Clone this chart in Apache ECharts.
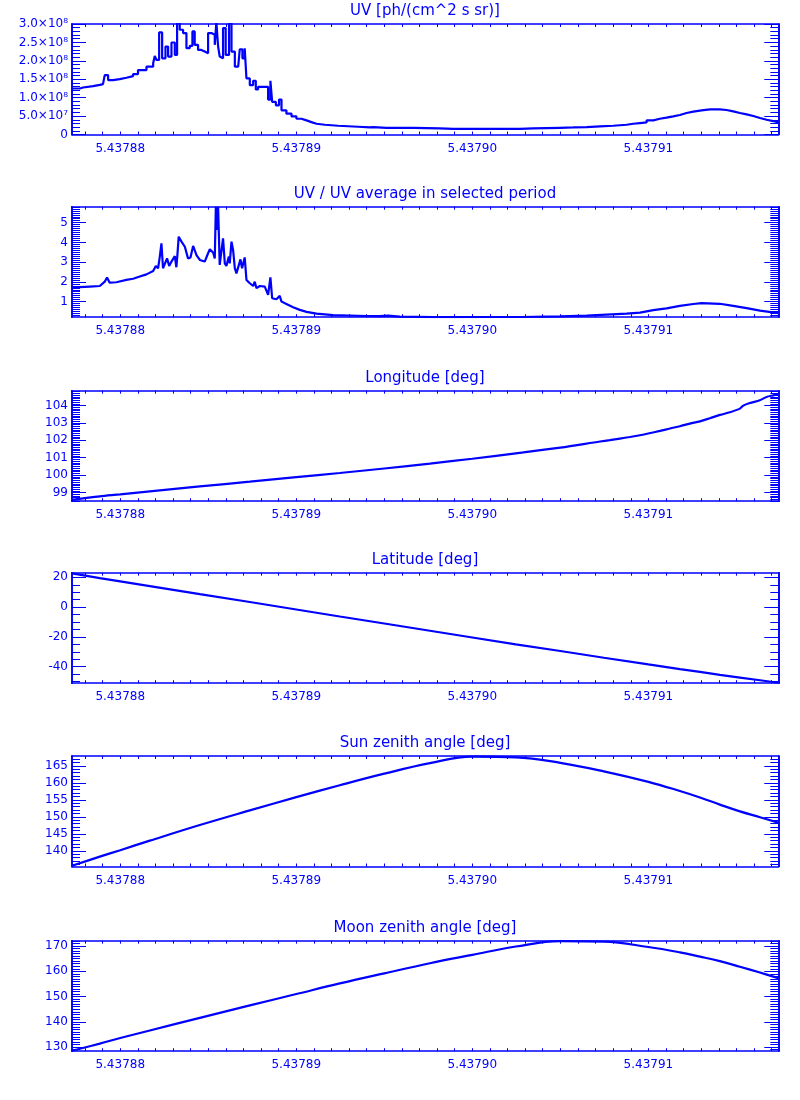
<!DOCTYPE html>
<html><head><meta charset="utf-8">
<script src="https://cdn.jsdelivr.net/npm/echarts@6/dist/echarts.min.js"></script>
<style>html,body{margin:0;padding:0;background:#fff}#c{width:800px;height:1100px}</style>
</head><body><div id="c"></div>
<script>
// ---------- data ----------
const uvTime = [5.43787726,5.43787770,5.43787789,5.43787846,5.43787884,5.43787902,5.43787912,5.43787931,5.43787959,5.43787997,
5.43788035,5.43788073,5.43788101,5.43788149,5.43788187,5.43788196,5.43788206,5.43788221,5.43788238,5.43788257,
5.43788272,5.43788291,5.43788310,5.43788323,5.43788338,5.43788357,5.43788376,5.43788395,5.43788410,5.43788423,
5.43788442,5.43788461,5.43788480,5.43788499,5.43788518,5.43788537,5.43788546,5.43788556,5.43788565,5.43788575,
5.43788584,5.43788599,5.43788618,5.43788632,5.43788651,5.43788670,5.43788679,5.43788694,5.43788707,5.43788717,
5.43788736,5.43788755,5.43788770,5.43788783,5.43788821,5.43788840,5.43788853,5.43788863,5.43788884,5.43788902,
5.43788916,5.43788944,5.43788973,5.43789001,5.43789029,5.43789058,5.43789086,5.43789115,5.43789162,5.43789238,
5.43789351,5.43789418,5.43789437,5.43789512,
5.43789588,5.43789664,5.43789740,5.43789815,5.43789891,5.43789967,5.43790043,5.43790118,5.43790194,5.43790270,
5.43790346,5.43790421,5.43790497,5.43790573,5.43790649,5.43790725,5.43790800,5.43790876,5.43790914,5.43790952,
5.43790990,5.43791028,5.43791065,5.43791103,5.43791141,5.43791179,5.43791217,5.43791255,5.43791302,5.43791350,
5.43791406,5.43791444,5.43791482,5.43791520,5.43791558,5.43791596,5.43791634,5.43791672,5.43791709,5.43791738];
const uvValue = [1.249e8,1.276e8,1.313e8,1.349e8,1.367e8,1.386e8,1.613e8,1.477e8,1.504e8,1.541e8,
1.586e8,1.641e8,1.750e8,1.841e8,1.933e8,2.133e8,2.024e8,2.771e8,2.069e8,2.388e8,
2.115e8,2.498e8,2.160e8,3.05e8,2.844e8,2.753e8,2.343e8,2.407e8,2.799e8,2.434e8,
2.297e8,2.252e8,2.206e8,2.753e8,2.707e8,2.434e8,3.05e8,2.388e8,2.115e8,2.069e8,
2.890e8,2.160e8,3.05e8,2.252e8,1.841e8,1.887e8,2.315e8,2.069e8,2.343e8,1.522e8,
1.340e8,1.459e8,1.222e8,1.294e8,1.294e8,0.948e8,1.459e8,0.884e8,0.793e8,0.948e8,
0.656e8,0.565e8,0.492e8,0.428e8,0.383e8,0.337e8,0.292e8,0.264e8,0.237e8,0.210e8,
0.191e8,0.200e8,0.182e8,0.182e8,
0.182e8,0.173e8,0.164e8,0.155e8,0.155e8,0.155e8,0.155e8,0.155e8,0.155e8,0.164e8,
0.173e8,0.182e8,0.191e8,0.201e8,0.219e8,0.237e8,0.264e8,0.292e8,0.310e8,0.328e8,
0.383e8,0.428e8,0.456e8,0.492e8,0.529e8,0.583e8,0.620e8,0.656e8,0.684e8,0.684e8,
0.665e8,0.629e8,0.583e8,0.547e8,0.501e8,0.447e8,0.401e8,0.365e8,0.328e8,0.310e8];

const ratioTime = [5.43787726,5.43787770,5.43787827,5.43787884,5.43787893,5.43787912,5.43787925,5.43787940,5.43787978,5.43788035,
5.43788073,5.43788111,5.43788149,5.43788187,5.43788202,5.43788215,5.43788224,5.43788234,5.43788243,5.43788253,
5.43788266,5.43788278,5.43788291,5.43788300,5.43788310,5.43788319,5.43788325,5.43788332,5.43788348,5.43788367,
5.43788385,5.43788399,5.43788414,5.43788433,5.43788452,5.43788480,5.43788499,5.43788509,5.43788528,5.43788537,
5.43788543,5.43788550,5.43788556,5.43788565,5.43788575,5.43788584,5.43788594,5.43788603,5.43788617,5.43788622,
5.43788632,5.43788641,5.43788651,5.43788660,5.43788670,5.43788683,5.43788692,5.43788707,5.43788717,5.43788736,
5.43788755,5.43788764,5.43788774,5.43788793,5.43788821,5.43788840,5.43788853,5.43788863,5.43788887,5.43788906,
5.43788916,5.43788944,5.43788982,5.43789020,5.43789058,5.43789115,5.43789209,5.43789399,5.43789475,5.43789522,
5.43789588,5.43789778,5.43790279,5.43790497,5.43790649,5.43790762,5.43790876,5.43790952,5.43791028,5.43791103,
5.43791179,5.43791255,5.43791302,5.43791406,5.43791482,5.43791558,5.43791634,5.43791738];
const ratioValue = [1.68,1.73,1.76,1.79,1.76,2.01,2.22,1.96,1.98,2.10,
2.16,2.27,2.38,2.55,2.81,2.69,3.23,3.95,2.69,2.77,
3.19,2.81,3.03,3.11,3.31,2.74,3.41,4.29,4.04,3.78,
3.19,3.24,3.82,3.36,3.11,3.03,3.45,3.65,3.48,3.19,
5.81,4.63,5.81,2.86,2.77,4.21,2.94,2.81,3.28,2.94,
4.04,3.62,2.69,2.43,2.47,3.14,2.69,3.24,2.10,1.93,
1.79,2.01,1.68,1.79,1.76,1.34,2.23,1.17,1.12,1.29,
1.00,0.88,0.71,0.58,0.48,0.39,0.32,0.27,0.26,0.29,
0.24,0.21,0.22,0.255,0.29,0.34,0.39,0.44,0.57,0.66,
0.78,0.88,0.92,0.89,0.78,0.67,0.54,0.42];

const orbitTime = [5.43787726,5.43787884,5.43788000,5.43788168,5.43788452,5.43788736,5.43789000,5.43789247,5.43789500,5.43789759,
5.43790000,5.43790247,5.43790500,5.43790747,5.43791000,5.43791179,5.43791293,5.43791406,5.43791520,5.43791634,5.43791738];
const latValue = [22.6,19.5,17.3,14.1,8.7,3.4,-1.6,-6.3,-11.0,-15.9,-20.4,-25.0,-29.5,-34.0,-38.5,-41.6,-43.5,-45.5,-47.3,-49.1,-50.8];
const sunValue = [135.6,138.3,140.2,143.0,147.6,151.9,155.8,159.3,162.7,165.8,167.7,167.5,165.9,163.4,160.3,157.6,155.7,153.6,151.6,149.9,148.3];
const moonValue = [128.6,131.4,133.6,136.6,141.6,146.5,151.0,155.2,159.2,163.2,166.5,169.8,171.9,171.7,169.6,167.5,165.8,164.0,161.8,159.5,157.3];

const lonTime = [5.43787726,5.43787884,5.43788000,5.43788168,5.43788452,5.43788736,5.43789000,5.43789247,5.43789500,5.43789759,
5.43790000,5.43790247,5.43790500,5.43790725,5.43790781,5.43790838,5.43790895,5.43790952,5.43790999,5.43791066,
5.43791123,5.43791179,5.43791236,5.43791293,5.43791350,5.43791407,5.43791463,5.43791520,5.43791539,5.43791576,
5.43791633,5.43791671,5.43791709,5.43791738];
const lonValue = [98.58,98.78,98.89,99.07,99.35,99.62,99.88,100.12,100.38,100.66,
100.94,101.25,101.58,101.93,102.01,102.10,102.19,102.29,102.39,102.54,
102.68,102.81,102.96,103.09,103.27,103.46,103.61,103.82,103.99,104.14,
104.30,104.49,104.58,104.64];

// ---------- axis ticks and labels ----------
const xTickValues = [5.43788, 5.43789, 5.43790, 5.43791];
const panelTitles = ['UV [ph/(cm^2 s sr)]', 'UV / UV average in selected period', 'Longitude [deg]',
                     'Latitude [deg]', 'Sun zenith angle [deg]', 'Moon zenith angle [deg]'];
const uvTicks = [0, 5e7, 1e8, 1.5e8, 2e8, 2.5e8, 3e8];
const uvTickLabels = ['0', '5.0×10⁷', '1.0×10⁸', '1.5×10⁸', '2.0×10⁸', '2.5×10⁸', '3.0×10⁸'];
const ratioTicks = [1, 2, 3, 4, 5];
const lonTicks = [99, 100, 101, 102, 103, 104];
const latTicks = [-40, -20, 0, 20];
const sunTicks = [140, 145, 150, 155, 160, 165];
const moonTicks = [130, 140, 150, 160, 170];

// ---------- layout / style ----------
const BLUE = '#0000ff';
const X_MIN = 5.43787726, X_MAX = 5.43791738;
const gridTops = [24, 206.7, 390.7, 572.7, 756, 940.7];
const GRID_H = 110.5;
const yRanges = [[0, 3e8], [0.21, 5.81], [98.5, 104.85], [-51.1, 23.1], [135.4, 167.9], [128.4, 172.1]];
const yMajor = [uvTicks, ratioTicks, lonTicks, latTicks, sunTicks, moonTicks];
const yLabels = [uvTickLabels, null, null, null, null, null];
const yMinorStep = [1e7, 0.1, 0.1, 5, 1, 1];
const stepMode = ['end', false, false, false, false, false];
const smoothMode = [false, false, 0.3, false, 0.4, 0.4];

function minorList(lo, hi, step) {
  const out = [];
  const k0 = Math.ceil(lo / step - 1e-9), k1 = Math.floor(hi / step + 1e-9);
  for (let k = k0; k <= k1; k++) out.push(+(k * step).toPrecision(12));
  return out;
}
const xMinor = minorList(X_MIN, X_MAX, 1e-6);

const grids = [], xAxes = [], yAxes = [], titles = [], series = [];
const seriesData = [
  [uvTime, uvValue], [ratioTime, ratioValue], [lonTime, lonValue],
  [orbitTime, latValue], [orbitTime, sunValue], [orbitTime, moonValue]
];
const lineAxis = {show: true, onZero: false, lineStyle: {color: BLUE, width: 1.6}};
for (let i = 0; i < 6; i++) {
  grids.push({left: 72, right: 21.7, top: gridTops[i], height: GRID_H});
  titles.push({text: panelTitles[i], left: 425, textAlign: 'center', top: gridTops[i] - 20, padding: 0,
               textStyle: {color: BLUE, fontSize: 15, fontWeight: 'normal', fontFamily: 'DejaVu Sans'}});
  xAxes.push({type: 'value', gridIndex: i, position: 'bottom', min: X_MIN, max: X_MAX, splitLine: {show: false},
    axisLine: lineAxis,
    axisTick: {show: true, inside: true, length: 3, customValues: xMinor, lineStyle: {color: BLUE, width: 1}},
    axisLabel: {show: true, customValues: xTickValues, formatter: v => v.toFixed(5), color: BLUE,
                fontSize: 12, fontFamily: 'DejaVu Sans', margin: 8}});
  xAxes.push({type: 'value', gridIndex: i, position: 'top', min: X_MIN, max: X_MAX, splitLine: {show: false},
    axisLine: lineAxis,
    axisTick: {show: true, inside: true, length: 3, customValues: xMinor, lineStyle: {color: BLUE, width: 1}},
    axisLabel: {show: false}});
  const [lo, hi] = yRanges[i];
  const minors = minorList(lo, hi, yMinorStep[i]);
  const majors = yMajor[i];
  const labs = yLabels[i];
  const fmt = v => {
    if (!labs) return String(v);
    const j = majors.findIndex(t => Math.abs(t - v) <= Math.abs(t) * 1e-9 + 1e-9);
    return j >= 0 ? labs[j] : '';
  };
  for (const pos of ['left', 'right']) {
    yAxes.push({type: 'value', gridIndex: i, position: pos, min: lo, max: hi, splitLine: {show: false},
      axisLine: lineAxis,
      axisTick: {show: true, inside: true, length: 14, customValues: majors, lineStyle: {color: BLUE, width: 1}},
      axisLabel: pos === 'left' ? {show: true, customValues: majors, formatter: fmt, color: BLUE, fontSize: 12,
                 fontFamily: 'DejaVu Sans', margin: 4} : {show: false}});
    yAxes.push({type: 'value', gridIndex: i, position: pos, min: lo, max: hi, splitLine: {show: false},
      axisLine: lineAxis,
      axisTick: {show: true, inside: true, length: 8, customValues: minors, lineStyle: {color: BLUE, width: 1}},
      axisLabel: {show: false}});
  }
  const [tArr, vArr] = seriesData[i];
  series.push({type: 'line', xAxisIndex: 2 * i, yAxisIndex: 4 * i, step: stepMode[i], smooth: smoothMode[i],
    showSymbol: false, symbol: 'none', clip: true, animation: false,
    lineStyle: {color: BLUE, width: 2.2}, itemStyle: {color: BLUE},
    data: tArr.map((t, k) => [t, vArr[k]])});
}

const chart = echarts.init(document.getElementById('c'), null, {renderer: 'canvas'});
chart.setOption({backgroundColor: '#fff', animation: false, title: titles, grid: grids,
  xAxis: xAxes, yAxis: yAxes, series: series, tooltip: {show: false}});
</script></body></html>
